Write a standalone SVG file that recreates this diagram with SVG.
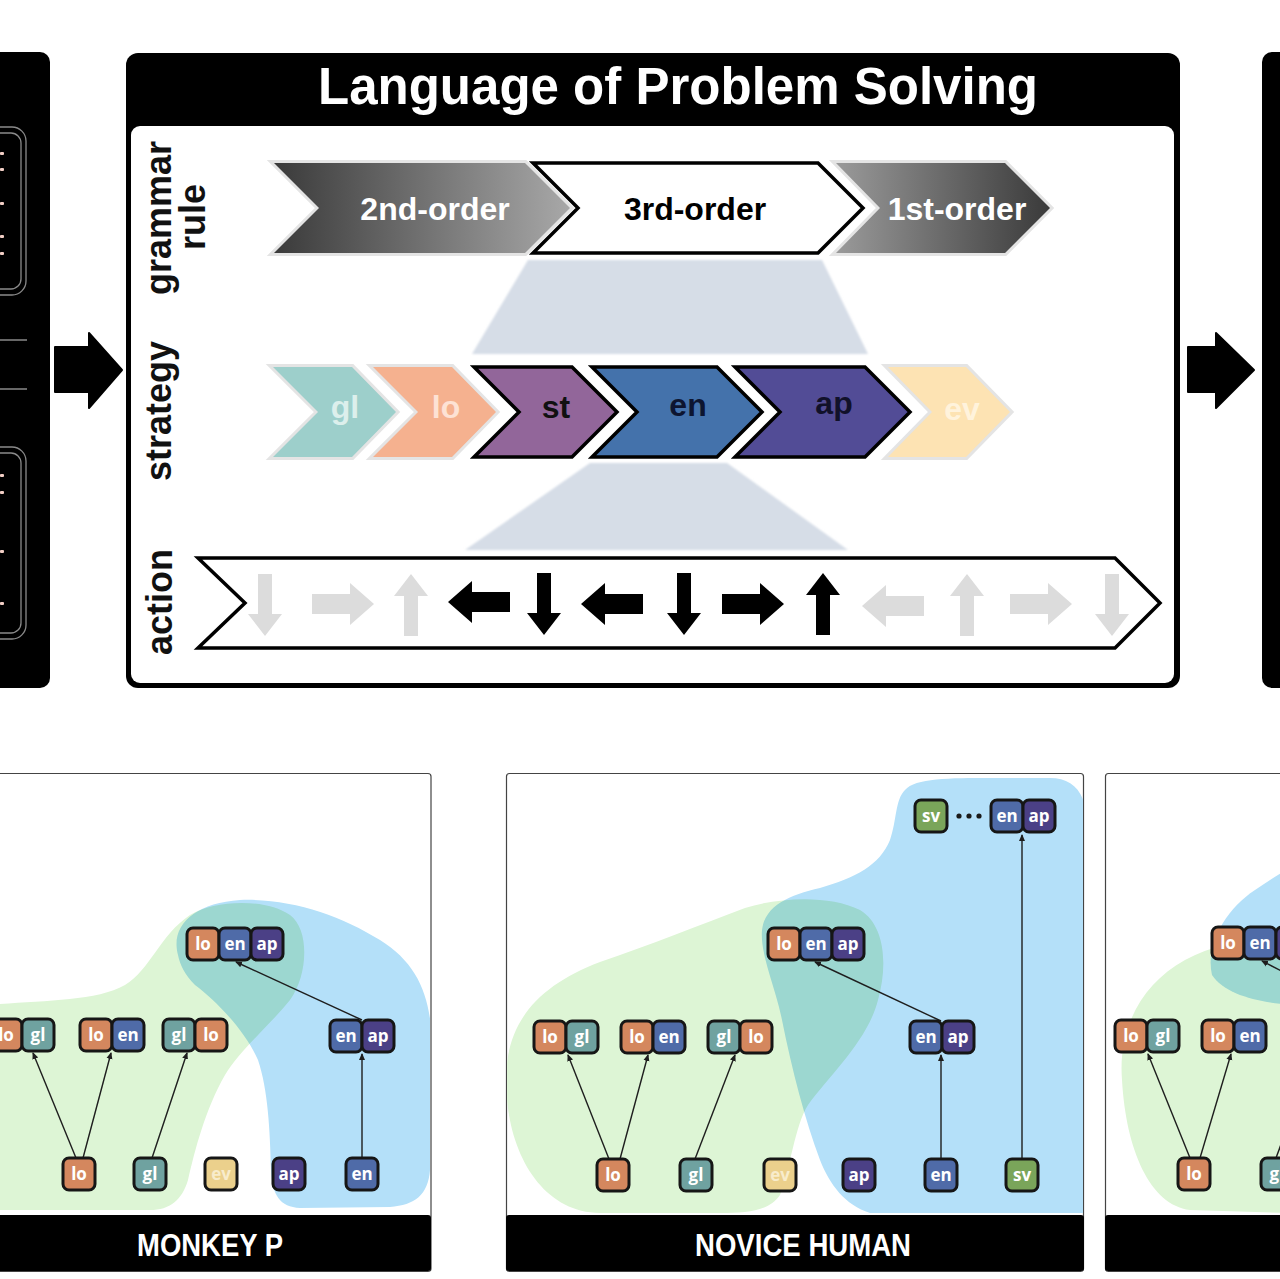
<svg xmlns="http://www.w3.org/2000/svg" xmlns:xlink="http://www.w3.org/1999/xlink" width="1280" height="1279" viewBox="0 0 1280 1279">
<style>
.lbl{font-family:"Liberation Sans",Arial,sans-serif;font-weight:700;fill:#111;font-size:36px;text-anchor:middle}
.chv{font-family:"Liberation Sans",Arial,sans-serif;font-weight:700;font-size:32px;text-anchor:middle}
.tk{stroke:#161616;stroke-width:3}
.tt{font-family:"Open Sans","DejaVu Sans",sans-serif;font-weight:700;font-size:17px;fill:#fff;text-anchor:middle}
.lo{fill:#d4875e}.gl{fill:#6fa2a0}.en{fill:#4f6ba8}.ap{fill:#4b4086}.ev{fill:#ebd08c}.sv{fill:#7aa55a}
.edge{stroke:#1e1e1e;stroke-width:1.4;fill:none;marker-end:url(#ah)}
.gray{fill:#dcdcdc}.blk{fill:#000}
.green{fill:#ddf5d5}
.blue{fill:#b4e0f9;mix-blend-mode:multiply}
.band{font-family:"Liberation Sans",Arial,sans-serif;font-weight:700;font-size:31px;fill:#fff;text-anchor:middle}
.halo{stroke:#e4e4e4;stroke-width:6;paint-order:stroke}
.bord{stroke:#000;stroke-width:3.5;stroke-linejoin:miter}
</style>
<defs>
<linearGradient id="g2" x1="0" x2="1" y1="0" y2="0"><stop offset="0" stop-color="#3a3a3a"/><stop offset="1" stop-color="#a8a8a8"/></linearGradient>
<linearGradient id="g1" x1="0" x2="1" y1="0" y2="0"><stop offset="0" stop-color="#9a9a9a"/><stop offset="1" stop-color="#3a3a3a"/></linearGradient>
<filter id="soft" x="-5%" y="-10%" width="110%" height="120%"><feGaussianBlur stdDeviation="1.2"/></filter>
<marker id="ah" markerWidth="7" markerHeight="7" refX="6" refY="3.5" orient="auto" markerUnits="userSpaceOnUse"><path d="M0,0.5 L7,3.5 L0,6.5 Z" fill="#1e1e1e"/></marker>
<path id="va" d="M-7,-31 H7 V9 H17 L0,31 L-17,9 H-7 Z"/>
<path id="ha" d="M-31,-10 H7 V-21 L31,0 L7,21 V10 H-31 Z"/>
<clipPath id="c1"><rect x="0" y="774" width="430" height="442"/></clipPath>
<clipPath id="c2"><rect x="507" y="774" width="576" height="442"/></clipPath>
<clipPath id="c3"><rect x="1106" y="774" width="174" height="442"/></clipPath>
</defs>
<rect width="1280" height="1279" fill="#fff"/>

<g id="left-panel">
<rect x="-20" y="52" width="70" height="636" rx="10" fill="#000"/>
<rect x="-20" y="127" width="46" height="168" rx="14" fill="none" stroke="#8a8a8a" stroke-width="1.3"/>
<rect x="-20" y="133" width="41" height="156" rx="10" fill="none" stroke="#8a8a8a" stroke-width="1.3"/>
<rect x="-20" y="447" width="46" height="192" rx="14" fill="none" stroke="#8a8a8a" stroke-width="1.3"/>
<rect x="-20" y="453" width="41" height="180" rx="10" fill="none" stroke="#8a8a8a" stroke-width="1.3"/>
<line x1="-5" y1="340" x2="27" y2="340" stroke="#8a8a8a" stroke-width="1.5"/>
<line x1="-5" y1="389" x2="27" y2="389" stroke="#8a8a8a" stroke-width="1.5"/>
<g fill="#f2cfc6">
<rect x="0" y="152" width="4" height="3" rx="1"/><rect x="0" y="168" width="4" height="3" rx="1"/><rect x="0" y="202" width="4" height="3" rx="1"/><rect x="0" y="235" width="4" height="3" rx="1"/><rect x="0" y="252" width="4" height="3" rx="1"/>
<rect x="0" y="474" width="4" height="3" rx="1"/><rect x="0" y="491" width="4" height="3" rx="1"/><rect x="0" y="550" width="4" height="3" rx="1"/><rect x="0" y="602" width="4" height="3" rx="1"/>
</g>
</g>

<g id="right-panel"><rect x="1262" y="52" width="60" height="636" rx="10" fill="#000"/></g>

<g id="flow-arrows">
<path d="M55,347 H89 V333 L122,370 L89,408 V392 H55 Z" fill="#000" stroke="#000" stroke-width="2" stroke-linejoin="round"/>
<path d="M1188,347 H1216 V333 L1254,370 L1216,408 V392 H1188 Z" fill="#000" stroke="#000" stroke-width="2" stroke-linejoin="round"/>
</g>

<g id="main-panel">
<rect x="126" y="53" width="1054" height="635" rx="12" fill="#000"/>
<rect x="131" y="126" width="1043" height="557" rx="9" fill="#fff"/>
<text x="678" y="104" font-family="Liberation Sans, Arial, sans-serif" font-weight="700" font-size="51" fill="#fff" text-anchor="middle" textLength="720" lengthAdjust="spacingAndGlyphs">Language of Problem Solving</text>
<text class="lbl" transform="translate(171,218) rotate(-90)">grammar</text>
<text class="lbl" transform="translate(205,217) rotate(-90)">rule</text>
<text class="lbl" transform="translate(171,411) rotate(-90)">strategy</text>
<text class="lbl" transform="translate(172,602) rotate(-90)">action</text>
</g>

<g id="trapezoids" fill="#d6dde7" filter="url(#soft)">
<polygon points="528,260 822,260 868,354 472,354"/>
<polygon points="590,463 727,463 848,550 465,550"/>
</g>

<g id="grammar-row">
<polygon class="halo" points="274,163 525,163 570,208 525,253 274,253 319,208" fill="url(#g2)"/>
<text class="chv" x="435" y="220" fill="#fff">2nd-order</text>
<polygon class="bord" points="533,163 818,163 863,208 818,253 533,253 578,208" fill="#fff"/>
<text class="chv" x="695" y="220" fill="#000">3rd-order</text>
<polygon class="halo" points="836,163 1005,163 1050,208 1005,253 836,253 880,208" fill="url(#g1)"/>
<text class="chv" x="957" y="220" fill="#fff">1st-order</text>
</g>

<g id="strategy-row">
<polygon class="halo" points="273,367 352,367 396,412 352,457 273,457 318,412" fill="#9dcfcb"/>
<text class="chv" x="345" y="418" fill="#dcefec">gl</text>
<polygon class="halo" points="373,367 452,367 496,412 452,457 373,457 418,412" fill="#f5b18f"/>
<text class="chv" x="446" y="418" fill="#fde2d4">lo</text>
<polygon class="bord" points="474,367 572,367 617,412 572,457 474,457 519,412" fill="#92669a"/>
<text class="chv" x="556" y="418" fill="#111">st</text>
<polygon class="bord" points="592,367 717,367 762,412 717,457 592,457 637,412" fill="#4472ab"/>
<text class="chv" x="688" y="416" fill="#0d1530">en</text>
<polygon class="bord" points="735,367 865,367 910,412 865,457 735,457 780,412" fill="#524c96"/>
<text class="chv" x="834" y="414" fill="#11112a">ap</text>
<polygon class="halo" points="888,367 966,367 1010,412 966,457 888,457 932,412" fill="#fde3b3"/>
<text class="chv" x="962" y="420" fill="#fff3dc">ev</text>
</g>

<g id="action-row">
<polygon class="bord" points="198,558 1115,558 1160,603 1115,648 198,648 245,603" fill="#fff"/>
<use xlink:href="#va" class="gray" transform="translate(265,605)"/>
<use xlink:href="#ha" class="gray" transform="translate(343,604)"/>
<use xlink:href="#va" class="gray" transform="translate(411,605) rotate(180)"/>
<use xlink:href="#ha" class="blk" transform="translate(479,602) rotate(180)"/>
<use xlink:href="#va" class="blk" transform="translate(544,604)"/>
<use xlink:href="#ha" class="blk" transform="translate(612,604) rotate(180)"/>
<use xlink:href="#va" class="blk" transform="translate(684,604)"/>
<use xlink:href="#ha" class="blk" transform="translate(753,604)"/>
<use xlink:href="#va" class="blk" transform="translate(823,604) rotate(180)"/>
<use xlink:href="#ha" class="gray" transform="translate(893,606) rotate(180)"/>
<use xlink:href="#va" class="gray" transform="translate(967,605) rotate(180)"/>
<use xlink:href="#ha" class="gray" transform="translate(1041,604)"/>
<use xlink:href="#va" class="gray" transform="translate(1112,605)"/>
</g>

<!-- Bottom panel 1 -->
<g id="panel-monkey">
<rect x="-5" y="773.5" width="436" height="498" rx="3" fill="#fff" stroke="#444" stroke-width="1.2"/>
<g clip-path="url(#c1)">
<path class="green" d="M -10,1005 C 40,1000 95,1002 125,985 C 150,970 160,935 190,915 C 215,900 265,898 290,915 C 310,930 308,975 290,1000 C 270,1025 240,1050 225,1075 C 205,1110 195,1150 188,1180 C 182,1200 170,1210 150,1210 L -10,1210 Z"/>
<path class="blue" d="M 178,955 C 170,925 195,903 240,900 C 290,898 340,915 380,940 C 420,965 432,1000 432,1050 L 430,1170 C 428,1195 415,1205 390,1207 L 300,1208 C 280,1207 272,1195 271,1170 C 270,1130 268,1090 258,1060 C 245,1030 215,1000 195,985 C 185,975 180,965 178,955 Z"/>
</g>
<rect x="-5" y="1215" width="436" height="56" rx="3" fill="#000"/>
<text class="band" x="210" y="1256" textLength="146" lengthAdjust="spacingAndGlyphs">MONKEY P</text>
</g>

<!-- Bottom panel 2 -->
<g id="panel-novice">
<rect x="506.5" y="773.5" width="577" height="498" rx="3" fill="#fff" stroke="#444" stroke-width="1.2"/>
<g clip-path="url(#c2)">
<path class="green" d="M 506,1080 C 506,1020 540,985 600,962 C 650,945 700,925 745,908 C 780,897 830,895 860,910 C 885,925 888,965 878,1000 C 868,1040 830,1075 808,1105 C 795,1125 790,1170 780,1195 C 770,1210 750,1213 720,1213 L 600,1213 C 540,1212 506,1150 506,1080 Z"/>
<path class="blue" d="M 905,790 C 915,778 950,778 990,778 L 1050,778 C 1075,778 1088,795 1088,830 L 1088,1213 L 870,1213 C 845,1205 830,1185 820,1160 C 805,1120 792,1070 782,1020 C 775,985 760,955 762,930 C 765,905 790,895 820,888 C 855,878 880,865 890,840 C 897,820 895,800 905,790 Z"/>
</g>
<rect x="506" y="1215" width="578" height="56" rx="3" fill="#000"/>
<text class="band" x="803" y="1256" textLength="216" lengthAdjust="spacingAndGlyphs">NOVICE HUMAN</text>
</g>

<!-- Bottom panel 3 -->
<g id="panel-3">
<rect x="1105.5" y="773.5" width="190" height="498" rx="3" fill="#fff" stroke="#444" stroke-width="1.2"/>
<g clip-path="url(#c3)">
<path class="green" d="M 1122,1080 C 1118,1030 1140,985 1185,960 C 1215,944 1250,938 1290,935 L 1290,1213 L 1190,1210 C 1150,1205 1126,1150 1122,1080 Z"/>
<path class="blue" d="M 1212,975 C 1205,945 1225,910 1255,890 C 1270,880 1285,870 1295,865 L 1295,1005 C 1260,1003 1225,995 1212,975 Z"/>
</g>
<rect x="1105" y="1215" width="190" height="56" rx="3" fill="#000"/>
</g>

<g id="connectors">
<line class="edge" x1="76" y1="1158" x2="33" y2="1053"/>
<line class="edge" x1="83" y1="1158" x2="111" y2="1053"/>
<line class="edge" x1="152" y1="1158" x2="187" y2="1053"/>
<line class="edge" x1="362" y1="1158" x2="362" y2="1054"/>
<line class="edge" x1="362" y1="1020" x2="236" y2="962"/>
<line class="edge" x1="609" y1="1159" x2="568" y2="1055"/>
<line class="edge" x1="620" y1="1159" x2="648" y2="1055"/>
<line class="edge" x1="695" y1="1159" x2="735" y2="1055"/>
<line class="edge" x1="941" y1="1159" x2="941" y2="1055"/>
<line class="edge" x1="941" y1="1021" x2="815" y2="962"/>
<line class="edge" x1="1022" y1="1159" x2="1022" y2="835"/>
<line class="edge" x1="1190" y1="1158" x2="1148" y2="1054"/>
<line class="edge" x1="1200" y1="1158" x2="1231" y2="1054"/>
<line class="edge" x1="1276" y1="1158" x2="1290" y2="1120"/>
<line class="edge" x1="1295" y1="978" x2="1262" y2="961"/>
</g>

<g id="tokens-monkey">
<rect class="tk lo" x="187" y="928" width="32" height="32" rx="6"/><rect class="tk en" x="219" y="928" width="32" height="32" rx="6"/><rect class="tk ap" x="251" y="928" width="32" height="32" rx="6"/>
<text class="tt" x="203" y="950">lo</text><text class="tt" x="235" y="950">en</text><text class="tt" x="267" y="950">ap</text>
<rect class="tk lo" x="-10" y="1019" width="32" height="32" rx="6"/><rect class="tk gl" x="22" y="1019" width="32" height="32" rx="6"/>
<text class="tt" x="6" y="1041">lo</text><text class="tt" x="38" y="1041">gl</text>
<rect class="tk lo" x="80" y="1019" width="32" height="32" rx="6"/><rect class="tk en" x="112" y="1019" width="32" height="32" rx="6"/>
<text class="tt" x="96" y="1041">lo</text><text class="tt" x="128" y="1041">en</text>
<rect class="tk gl" x="163" y="1019" width="32" height="32" rx="6"/><rect class="tk lo" x="195" y="1019" width="32" height="32" rx="6"/>
<text class="tt" x="179" y="1041">gl</text><text class="tt" x="211" y="1041">lo</text>
<rect class="tk en" x="330" y="1020" width="32" height="32" rx="6"/><rect class="tk ap" x="362" y="1020" width="32" height="32" rx="6"/>
<text class="tt" x="346" y="1042">en</text><text class="tt" x="378" y="1042">ap</text>
<rect class="tk lo" x="63" y="1158" width="32" height="32" rx="6"/><text class="tt" x="79" y="1180">lo</text>
<rect class="tk gl" x="134" y="1158" width="32" height="32" rx="6"/><text class="tt" x="150" y="1180">gl</text>
<rect class="tk ev" x="205" y="1158" width="32" height="32" rx="6"/><text class="tt" x="221" y="1180" style="fill:#f8eccb">ev</text>
<rect class="tk ap" x="273" y="1158" width="32" height="32" rx="6"/><text class="tt" x="289" y="1180">ap</text>
<rect class="tk en" x="346" y="1158" width="32" height="32" rx="6"/><text class="tt" x="362" y="1180">en</text>
</g>

<g id="tokens-novice">
<rect class="tk sv" x="915" y="800" width="32" height="32" rx="6"/><text class="tt" x="931" y="822">sv</text>
<g fill="#1a1a1a"><circle cx="959" cy="816" r="2.6"/><circle cx="969" cy="816" r="2.6"/><circle cx="979" cy="816" r="2.6"/></g>
<rect class="tk en" x="991" y="800" width="32" height="32" rx="6"/><rect class="tk ap" x="1023" y="800" width="32" height="32" rx="6"/>
<text class="tt" x="1007" y="822">en</text><text class="tt" x="1039" y="822">ap</text>
<rect class="tk lo" x="768" y="928" width="32" height="32" rx="6"/><rect class="tk en" x="800" y="928" width="32" height="32" rx="6"/><rect class="tk ap" x="832" y="928" width="32" height="32" rx="6"/>
<text class="tt" x="784" y="950">lo</text><text class="tt" x="816" y="950">en</text><text class="tt" x="848" y="950">ap</text>
<rect class="tk lo" x="534" y="1021" width="32" height="32" rx="6"/><rect class="tk gl" x="566" y="1021" width="32" height="32" rx="6"/>
<text class="tt" x="550" y="1043">lo</text><text class="tt" x="582" y="1043">gl</text>
<rect class="tk lo" x="621" y="1021" width="32" height="32" rx="6"/><rect class="tk en" x="653" y="1021" width="32" height="32" rx="6"/>
<text class="tt" x="637" y="1043">lo</text><text class="tt" x="669" y="1043">en</text>
<rect class="tk gl" x="708" y="1021" width="32" height="32" rx="6"/><rect class="tk lo" x="740" y="1021" width="32" height="32" rx="6"/>
<text class="tt" x="724" y="1043">gl</text><text class="tt" x="756" y="1043">lo</text>
<rect class="tk en" x="910" y="1021" width="32" height="32" rx="6"/><rect class="tk ap" x="942" y="1021" width="32" height="32" rx="6"/>
<text class="tt" x="926" y="1043">en</text><text class="tt" x="958" y="1043">ap</text>
<rect class="tk lo" x="597" y="1159" width="32" height="32" rx="6"/><text class="tt" x="613" y="1181">lo</text>
<rect class="tk gl" x="680" y="1159" width="32" height="32" rx="6"/><text class="tt" x="696" y="1181">gl</text>
<rect class="tk ev" x="764" y="1159" width="32" height="32" rx="6"/><text class="tt" x="780" y="1181" style="fill:#f8eccb">ev</text>
<rect class="tk ap" x="843" y="1159" width="32" height="32" rx="6"/><text class="tt" x="859" y="1181">ap</text>
<rect class="tk en" x="925" y="1159" width="32" height="32" rx="6"/><text class="tt" x="941" y="1181">en</text>
<rect class="tk sv" x="1006" y="1159" width="32" height="32" rx="6"/><text class="tt" x="1022" y="1181">sv</text>
</g>

<g id="tokens-3">
<rect class="tk lo" x="1212" y="927" width="32" height="32" rx="6"/><rect class="tk en" x="1244" y="927" width="32" height="32" rx="6"/><rect class="tk ap" x="1276" y="927" width="32" height="32" rx="6"/>
<text class="tt" x="1228" y="949">lo</text><text class="tt" x="1260" y="949">en</text>
<rect class="tk lo" x="1115" y="1020" width="32" height="32" rx="6"/><rect class="tk gl" x="1147" y="1020" width="32" height="32" rx="6"/>
<text class="tt" x="1131" y="1042">lo</text><text class="tt" x="1163" y="1042">gl</text>
<rect class="tk lo" x="1202" y="1020" width="32" height="32" rx="6"/><rect class="tk en" x="1234" y="1020" width="32" height="32" rx="6"/>
<text class="tt" x="1218" y="1042">lo</text><text class="tt" x="1250" y="1042">en</text>
<rect class="tk lo" x="1178" y="1158" width="32" height="32" rx="6"/><text class="tt" x="1194" y="1180">lo</text>
<rect class="tk gl" x="1261" y="1158" width="32" height="32" rx="6"/><text class="tt" x="1277" y="1180">gl</text>
</g>
</svg>
